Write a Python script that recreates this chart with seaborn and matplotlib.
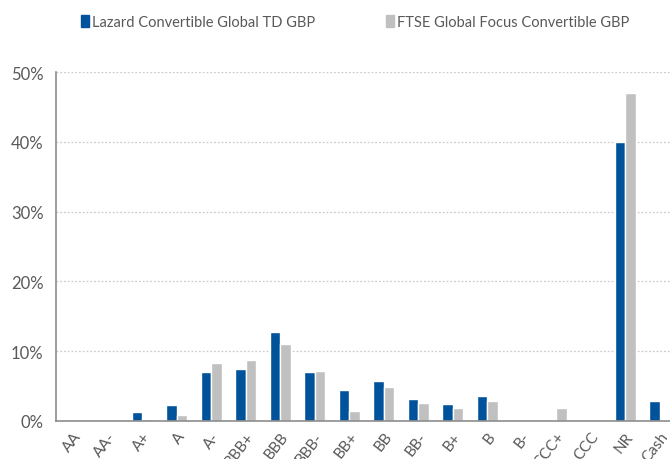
import matplotlib
matplotlib.use("Agg")
import matplotlib.pyplot as plt
import numpy as np
import pandas as pd
import seaborn as sns
from matplotlib.ticker import FuncFormatter, FixedLocator

categories = ["AA", "AA-", "A+", "A", "A-", "BBB+", "BBB", "BBB-", "BB+", "BB",
              "BB-", "B+", "B", "B-", "CCC+", "CCC", "NR", "Cash"]
lazard = [0, 0, 1.3, 2.3, 6.95, 7.5, 12.7, 7.0, 4.45, 5.7,
          3.1, 2.45, 3.6, 0, 0, 0, 39.9, 2.85]
ftse = [0, 0.15, 0.3, 0.8, 8.3, 8.8, 11.1, 7.2, 1.5, 4.9,
        2.65, 1.8, 2.9, 0.15, 1.85, 0, 47.0, 0]
series = ["Lazard Convertible Global TD GBP", "FTSE Global Focus Convertible GBP"]

df = pd.DataFrame({
    "rating": categories * 2,
    "value": lazard + ftse,
    "fund": [series[0]] * len(categories) + [series[1]] * len(categories),
})

sns.set_style("white")
plt.rcParams["font.family"] = ["Lato", "DejaVu Sans"]

fig = plt.figure(figsize=(6.7, 4.6), dpi=100)
ax = fig.add_axes([56 / 670, 38 / 460, 621 / 670, 349 / 460])

sns.barplot(data=df, x="rating", y="value", hue="fund", order=categories,
            hue_order=series, palette=["#00539B", "#C0C0C0"], width=0.6,
            saturation=1, ax=ax, legend=False)

ax.set_ylim(0, 50)
ax.set_xlim(-0.5, len(categories) - 0.5)
ax.set_yticks([0, 10, 20, 30, 40, 50])
ax.yaxis.set_major_formatter(FuncFormatter(lambda v, p: f"{int(v)}%"))
for v in [10, 20, 30, 40, 50]:
    ax.axhline(v, color="#CCCCCC", lw=0.9, ls=(0, (1.5, 1.5)), zorder=0)

ax.set_xlabel("")
ax.set_ylabel("")
ax.set_xticks(np.arange(len(categories)))
ax.set_xticklabels(categories, rotation=52, ha="right", va="top",
                   rotation_mode="anchor")
ax.xaxis.set_minor_locator(FixedLocator(np.arange(len(categories) + 1) - 0.5))
ax.tick_params(axis="x", which="major", length=0, pad=6, labelsize=11,
               labelcolor="#595959")
ax.tick_params(axis="x", which="minor", length=4, color="#8C8C8C", width=1,
               direction="out")
ax.tick_params(axis="y", length=4, color="#8C8C8C", width=1, direction="out",
               labelsize=12, labelcolor="#595959", pad=5)

for s in ["top", "right"]:
    ax.spines[s].set_visible(False)
for s in ["left", "bottom"]:
    ax.spines[s].set_color("#8C8C8C")
    ax.spines[s].set_linewidth(1.2)

handles = [plt.Rectangle((0, 0), 1, 1, color=c) for c in ["#00539B", "#C0C0C0"]]
fig.legend(handles, series, loc="center", bbox_to_anchor=(0.53, 0.95), ncol=2,
           frameon=False, fontsize=10.5, handlelength=0.6, handleheight=0.8,
           handletextpad=0.2, columnspacing=4.8, labelcolor="#595959")

fig.savefig("out.png", dpi=100)
